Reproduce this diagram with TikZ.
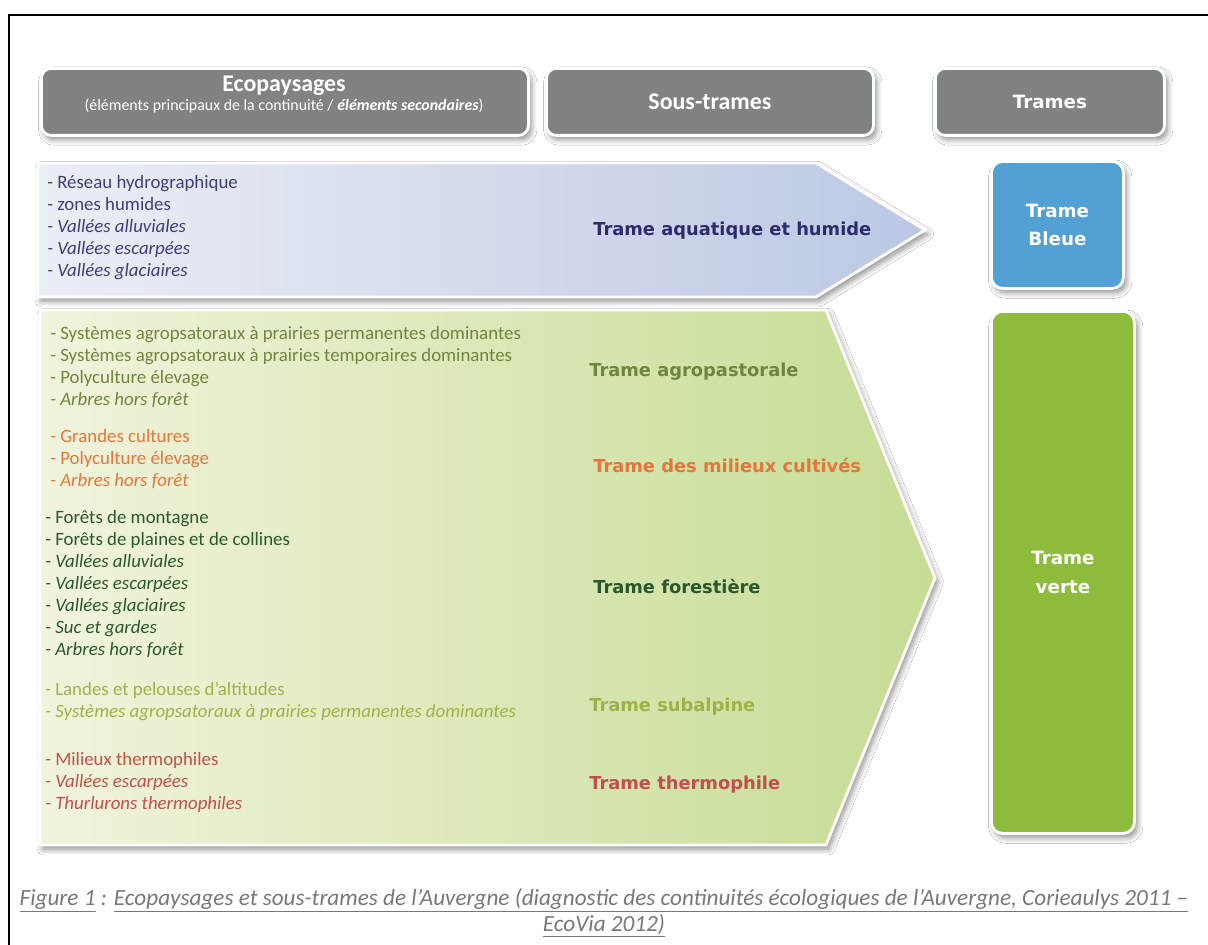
\documentclass[tikz,border=0pt]{standalone}
\usepackage{fontspec}
\setmainfont{Carlito}
\newfontfamily\vfont{DejaVu Sans}
\usetikzlibrary{shadows.blur}
\newcommand\pxu{0.025cm}
\definecolor{hdgray}{RGB}{127,131,131}
\definecolor{bluL}{RGB}{236,238,246}
\definecolor{bluR}{RGB}{188,200,228}
\definecolor{grnL}{RGB}{241,244,220}
\definecolor{grnR}{RGB}{198,220,148}
\definecolor{bleuebox}{RGB}{82,160,212}
\definecolor{vertebox}{RGB}{141,187,59}
\definecolor{aquatxt}{RGB}{62,62,122}
\definecolor{aquattl}{RGB}{44,44,108}
\definecolor{agrotxt}{RGB}{112,134,62}
\definecolor{culttxt}{RGB}{228,118,58}
\definecolor{foretxt}{RGB}{42,88,44}
\definecolor{subatxt}{RGB}{160,178,70}
\definecolor{thertxt}{RGB}{192,80,77}
\definecolor{captxt}{RGB}{120,120,120}
\begin{document}
\begin{tikzpicture}[x=0.025cm,y=-0.025cm,
  sh/.style={blur shadow={shadow xshift=2pt,shadow yshift=-3pt,shadow blur steps=8,shadow opacity=45,shadow blur radius=4pt}},
  hdbox/.style={sh,draw=white,line width=2pt,fill=hdgray,rounded corners=7pt,text=white,align=center,inner sep=0pt,minimum height=67*\pxu,anchor=north west},
  trbox/.style={sh,draw=white,line width=2pt,rounded corners=8pt,text=white,align=center,inner sep=0pt,anchor=north west,font=\vfont\bfseries\fontsize{13}{20}\selectfont},
  lst/.style={anchor=base west,align=left,inner sep=0pt,font=\fontsize{13.4}{15.6}\selectfont},
  ttl/.style={anchor=west,inner sep=0pt,font=\vfont\bfseries\fontsize{12.7}{15}\selectfont},
  capline/.style={inner sep=0pt,text=captxt,font=\itshape\fontsize{16.5}{19}\selectfont}]
\useasboundingbox (0,0) rectangle (1208,945);
\fill[white] (0,0) rectangle (1208,945);
\draw[line width=1.1pt] (9,945) -- (9,15) -- (1208,15);
% en-tetes
\node[hdbox,minimum width=487*\pxu] (ecopay) at (40,67) {};
\node[text=white,inner sep=0pt,font=\bfseries\fontsize{17}{19}\selectfont] (ecotitle) at (284,86) {Ecopaysages};
\node[text=white,inner sep=0pt,font=\fontsize{11.3}{13}\selectfont] (ecosub) at (284,106)
  {(éléments principaux de la continuité / \textbf{\textit{éléments secondaires}})};
\node[hdbox,minimum width=327*\pxu,font=\bfseries\fontsize{17}{19}\selectfont] (soustr) at (545,67) {Sous-trames};
\node[hdbox,minimum width=229*\pxu,font=\vfont\bfseries\fontsize{13}{15}\selectfont] (trames) at (934,67) {Trames};
% fleches
\shade[sh,left color=bluL,right color=bluR,draw=white,line width=2pt]
  (38,163) -- (816,163) -- (925,230) -- (816,297) -- (38,297) -- cycle;
\shade[sh,left color=grnL,right color=grnR,draw=white,line width=2pt]
  (40,310) -- (826,310) -- (935,578) -- (826,845) -- (40,845) -- cycle;
% trames
\node[trbox,fill=bleuebox,minimum width=132*\pxu,minimum height=127*\pxu] (bleue) at (990,160) {Trame\\Bleue};
\node[trbox,fill=vertebox,minimum width=143*\pxu,minimum height=522*\pxu] (verte) at (990,310) {Trame\\verte};
% ecopaysages
\node[lst,text=aquatxt] (laqua) at (47,276) {- Réseau hydrographique\\- zones humides\\\textit{- Vallées alluviales}\\\textit{- Vallées escarpées}\\\textit{- Vallées glaciaires}};
\node[lst,text=agrotxt] (lagro) at (50,405) {- Systèmes agropsatoraux à prairies permanentes dominantes\\- Systèmes agropsatoraux à prairies temporaires dominantes\\- Polyculture élevage\\\textit{- Arbres hors forêt}};
\node[lst,text=culttxt] (lcult) at (50,486) {- Grandes cultures\\- Polyculture élevage\\\textit{- Arbres hors forêt}};
\node[lst,text=foretxt] (lfore) at (45,655) {- Forêts de montagne\\- Forêts de plaines et de collines\\\textit{- Vallées alluviales}\\\textit{- Vallées escarpées}\\\textit{- Vallées glaciaires}\\\textit{- Suc et gardes}\\\textit{- Arbres hors forêt}};
\node[lst,text=subatxt] (lsuba) at (45,717) {- Landes et pelouses d’altitudes\\\textit{- Systèmes agropsatoraux à prairies permanentes dominantes}};
\node[lst,text=thertxt] (lther) at (45,809) {- Milieux thermophiles\\\textit{- Vallées escarpées}\\\textit{- Thurlurons thermophiles}};
% sous-trames
\node[ttl,text=aquattl] (taqua) at (593,231) {Trame aquatique et humide};
\node[ttl,text=agrotxt] (tagro) at (589,372) {Trame agropastorale};
\node[ttl,text=culttxt] (tcult) at (593,465) {Trame des milieux cultivés};
\node[ttl,text=foretxt] (tfore) at (593,586) {Trame forestière};
\node[ttl,text=subatxt] (tsuba) at (589,707) {Trame subalpine};
\node[ttl,text=thertxt] (tther) at (589,785) {Trame thermophile};
% legende
\node[capline] (cap1) at (604,900)
  {\underline{Figure 1} : \underline{Ecopaysages et sous-trames de l'Auvergne (diagnostic des continuités écologiques de l'Auvergne, Corieaulys 2011 –}};
\node[capline] (cap2) at (604,926) {\underline{EcoVia 2012)}};
\end{tikzpicture}
\end{document}
